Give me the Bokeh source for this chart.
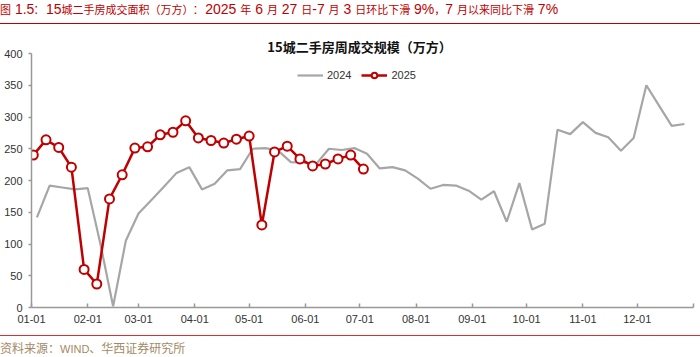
import re
import pandas as pd
from bokeh.plotting import figure
from bokeh.layouts import column
from bokeh.models import (Range1d, FixedTicker, Label, Legend, LegendItem, Div)
from bokeh.embed import file_html
from bokeh.resources import INLINE

# ---------------- data ----------------
start_2024 = "2024-01-04"   # weekly (Thursday) observations
start_2025 = "2025-01-02"
values_2024 = [142, 192, 189, 186, 188, 100, 2, 105, 148, 169,
               190, 212, 221, 186, 195, 216, 218, 250, 251, 247,
               229, 228, 226, 250, 248, 251, 242, 219, 221, 216,
               203, 187, 193, 192, 184, 170, 183, 135, 196, 123,
               132, 280, 273, 292, 275, 268, 247, 267, 350, 318,
               286, 289]
values_2025 = [240, 264, 252, 221, 60, 37, 171, 209, 251, 253,
               272, 276, 294, 267, 263, 259, 265, 270, 130, 245,
               254, 234, 223, 226, 234, 240, 218]
tick_days = [0, 31, 59, 90, 120, 151, 181, 212, 243, 273, 304, 334, 365]
tick_labels = ["01-01", "02-01", "03-01", "04-01", "05-01", "06-01",
               "07-01", "08-01", "09-01", "10-01", "11-01", "12-01", ""]
y_ticks = [0, 50, 100, 150, 200, 250, 300, 350, 400]

header_text = "图 1.5:  15城二手房成交面积（万方）:  2025 年 6 月 27 日-7 月 3 日环比下滑 9%，7 月以来同比下滑 7%"
chart_title = "15城二手房周成交规模（万方）"
source_text = "资料来源：WIND、华西证券研究所"

dates_2024 = pd.date_range(start_2024, periods=len(values_2024), freq="7D")
dates_2025 = pd.date_range(start_2025, periods=len(values_2025), freq="7D")
x_2024 = list(dates_2024.dayofyear - 1)
x_2025 = list(dates_2025.dayofyear - 1)

RED = "#C00000"
GRAY = "#A6A6A6"
LATIN = "Liberation Sans"
CJK = "Noto Sans CJK SC"

HEAD_H, FIG_H, FOOT_H = 26, 308, 23


def mixed_runs(text, latin_size, cjk_size):
    """Wrap CJK runs and Latin runs in spans of different sizes."""
    parts = re.findall(r"[\u3000-\u9fff\uff00-\uffef]+|[^\u3000-\u9fff\uff00-\uffef]+", text)
    out = []
    for part in parts:
        if re.match(r"[\u3000-\u9fff\uff00-\uffef]", part):
            out.append(f'<span style="font-family:\'{CJK}\';font-size:{cjk_size}px;">{part}</span>')
        else:
            out.append(f'<span style="font-family:\'{LATIN}\';font-size:{latin_size}px;">{part}</span>')
    return "".join(out)


# ---------------- header / footer ----------------
header = Div(
    text=(f'<div style="position:relative;width:700px;height:{HEAD_H}px;margin:0;padding:0;">'
          f'<div style="position:absolute;left:0;top:0px;line-height:18px;color:{RED};'
          f'white-space:pre;">{mixed_runs(header_text, 14, 11)}</div>'
          f'<div style="position:absolute;left:0;top:23px;width:700px;height:0;'
          f'border-top:1.8px solid {RED};"></div></div>'),
    width=700, height=HEAD_H, margin=0)

footer = Div(
    text=(f'<div style="position:relative;width:700px;height:{FOOT_H}px;margin:0;padding:0;">'
          f'<div style="position:absolute;left:0;top:1.2px;width:700px;height:0;'
          f'border-top:1.6px solid #D83030;"></div>'
          f'<div style="position:absolute;left:0;top:6px;line-height:15px;color:#A38A66;'
          f'white-space:pre;">{mixed_runs(source_text, 11, 12)}</div></div>'),
    width=700, height=FOOT_H, margin=0)

# ---------------- figure ----------------
PX_PER_UNIT = 254 / 400.0
FRAME_TOP_PAD = 53 - HEAD_H          # px between figure top and the 400 line
p = figure(width=700, height=FIG_H, output_backend="svg", toolbar_location=None,
           x_range=Range1d(0, 365),
           y_range=Range1d(0, 400 + FRAME_TOP_PAD / PX_PER_UNIT),
           min_border_left=31, min_border_right=7, min_border_top=0,
           min_border_bottom=FIG_H - (307 - HEAD_H), margin=0)
p.outline_line_color = None
p.xgrid.grid_line_color = None
p.ygrid.grid_line_color = None
p.background_fill_color = "white"
p.border_fill_color = "white"

r24 = p.line(x_2024, values_2024, line_color=GRAY, line_width=2.2)
r25l = p.line(x_2025, values_2025, line_color=RED, line_width=2.5)
r25s = p.scatter(x_2025, values_2025, size=9, marker="circle",
                 fill_color="white", line_color=RED, line_width=2)

# axes
for ax in (p.xaxis[0], p.yaxis[0]):
    ax.axis_line_color = "#999999"
    ax.axis_line_width = 1.5
    ax.major_tick_line_color = "#999999"
    ax.major_tick_line_width = 1.5
    ax.minor_tick_line_color = None
    ax.major_label_text_font = LATIN
    ax.major_label_text_font_size = "11px"
    ax.major_label_text_color = "#333333"

p.xaxis.ticker = FixedTicker(ticks=tick_days)
p.xaxis.major_label_overrides = {d: lab for d, lab in zip(tick_days, tick_labels)}
p.xaxis.major_tick_in = 4
p.xaxis.major_tick_out = 0
p.xaxis.major_label_standoff = 7

p.yaxis.ticker = FixedTicker(ticks=y_ticks)
p.yaxis.bounds = (0, 400)
p.yaxis.major_tick_in = 0
p.yaxis.major_tick_out = 3
p.yaxis.major_label_standoff = 6

# legend
frame_bottom = 307 - HEAD_H
legend = Legend(items=[LegendItem(label="2024", renderers=[r24]),
                       LegendItem(label="2025", renderers=[r25l, r25s])],
                orientation="horizontal", location=(266, frame_bottom - (82 - HEAD_H)),
                padding=0, margin=0, spacing=10, label_standoff=4,
                glyph_width=26, glyph_height=14, label_height=14,
                border_line_color=None, background_fill_alpha=0,
                label_text_font=LATIN, label_text_font_size="11px",
                label_text_color="#333333")
p.add_layout(legend, "center")

# chart title inside the (extended) frame
p.add_layout(Label(x=359 - 31, y=frame_bottom - (46 - HEAD_H), x_units="screen", y_units="screen",
                   text=chart_title, text_font=CJK, text_font_size="13px",
                   text_font_style="bold", text_color="#111111",
                   text_align="center", text_baseline="middle"))

layout = column(header, p, footer, spacing=0)
open("out.html", "w").write(file_html(layout, INLINE))
